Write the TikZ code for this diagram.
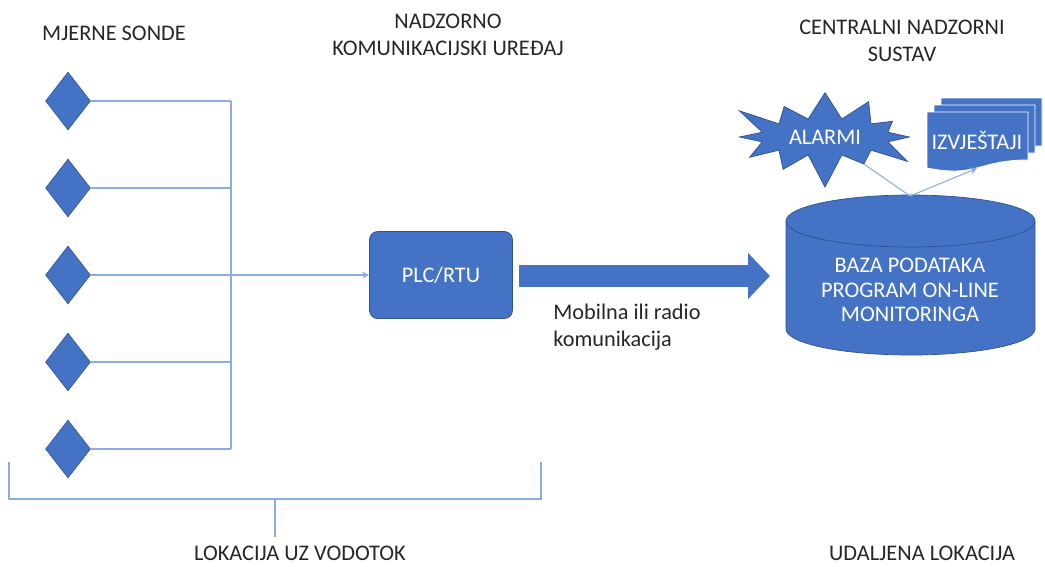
\documentclass[tikz,border=0pt]{standalone}
\usepackage{fontspec}
\setmainfont{Carlito}
\usetikzlibrary{shapes.geometric, shapes.symbols}
\usetikzlibrary{arrows.meta, positioning}
\definecolor{plava}{HTML}{4472C4}
\definecolor{tamnoplava}{HTML}{2F528F}
\definecolor{linija}{HTML}{8FAADC}

\begin{document}
\begin{tikzpicture}[x=0.02cm, y=-0.02cm,
    naslov/.style={font=\fontsize{12.7}{15.3}\selectfont, align=center,
        text=black!85, inner sep=0pt},
    bijeli/.style={font=\fontsize{12.7}{14}\selectfont, align=center,
        text=white, inner sep=0pt},
    sonda/.style={diamond, aspect=0.78, fill=plava, draw=tamnoplava,
        line width=0.3pt, minimum width=0.9cm, minimum height=1.16cm, inner sep=0pt},
    plcbox/.style={rectangle, rounded corners=0.16cm, fill=plava, draw=tamnoplava,
        line width=0.4pt, minimum width=2.86cm, minimum height=1.74cm},
    veza/.style={draw=linija, line width=0.6pt},
    debela/.style={draw=plava, line width=0.44cm,
        -{Triangle[length=0.44cm, width=0.9cm]}},
    dok/.style={fill=plava, draw=white, line width=0.5pt}]

    \useasboundingbox (0,0) rectangle (1045,566);

    % naslovi
    \node[naslov] (sonde) at (114,33) {MJERNE SONDE};
    \node[naslov] (nadzorni) at (448,35) {NADZORNO\\KOMUNIKACIJSKI UREĐAJ};
    \node[naslov] (centralni) at (902,41) {CENTRALNI NADZORNI\\SUSTAV};

    % sonde i sabirnica
    \foreach \i/\y in {1/101, 2/188, 3/275, 4/362, 5/449}
        \node[sonda] (s\i) at (68,\y) {};
    \coordinate (bus1) at (231,101);
    \coordinate (bus5) at (231,449);
    \foreach \i in {1,...,5}
        \draw[veza] (s\i.east) -- (s\i.east -| bus1);
    \draw[veza] (bus1) -- (bus5);

    \node[plcbox, bijeli] (plc) at (441,275) {PLC/RTU};
    \draw[veza, -{Stealth[length=4pt, width=4pt]}] (s3.east -| bus1) -- (plc.west);

    % baza podataka
    \fill[plava, draw=tamnoplava, line width=0.4pt] (786,221) -- (786,329)
        arc[start angle=180, end angle=360, x radius=2.49cm, y radius=0.52cm]
        -- (1035,221)
        arc[start angle=0, end angle=180, x radius=2.49cm, y radius=0.52cm] -- cycle;
    \draw[tamnoplava, line width=0.4pt] (786,221)
        arc[start angle=180, end angle=360, x radius=2.49cm, y radius=0.52cm];
    \node[bijeli] (db) at (910,290) {BAZA PODATAKA\\PROGRAM ON-LINE\\MONITORINGA};
    \coordinate (ulaz) at (770,276);
    \coordinate (vrh) at (910,196);

    \draw[debela] ([xshift=0.12cm]plc.east |- ulaz) -- (ulaz);
    \node[naslov, align=left, anchor=north west] (mobilna) at (553,304)
        {Mobilna ili radio\\komunikacija};

    % alarmi i izvjestaji
    \node[starburst, starburst points=12, starburst point height=0.72cm,
        fill=plava, draw=tamnoplava, line width=0.4pt,
        bijeli, inner xsep=0.2cm, inner ysep=0.12cm] (alarm) at (825,137) {ALARMI};
    \foreach \d in {2,1,0}
        \filldraw[dok] ({927+7*\d},{112-7*\d}) -- ++(101,0) -- ++(0,48)
            .. controls +(-50,0) and +(50,10) .. ++(-101,8) -- cycle;
    \node[bijeli, minimum width=2.02cm, minimum height=1.12cm] (izv) at (977,140) {IZVJEŠTAJI};

    \draw[veza] (vrh) -- (alarm);
    \draw[veza, -{Stealth[length=4pt, width=4pt]}] (vrh) -- (izv.south);

    % lokacije
    \draw[veza] (9,462) -- (9,499) -- (541,499) -- (541,462);
    \node[naslov] (lokacija) at (300,553) {LOKACIJA UZ VODOTOK};
    \node[naslov] (udaljena) at (922,553) {UDALJENA LOKACIJA};
    \draw[veza] (275,499) -- (275,537);

\end{tikzpicture}
\end{document}
